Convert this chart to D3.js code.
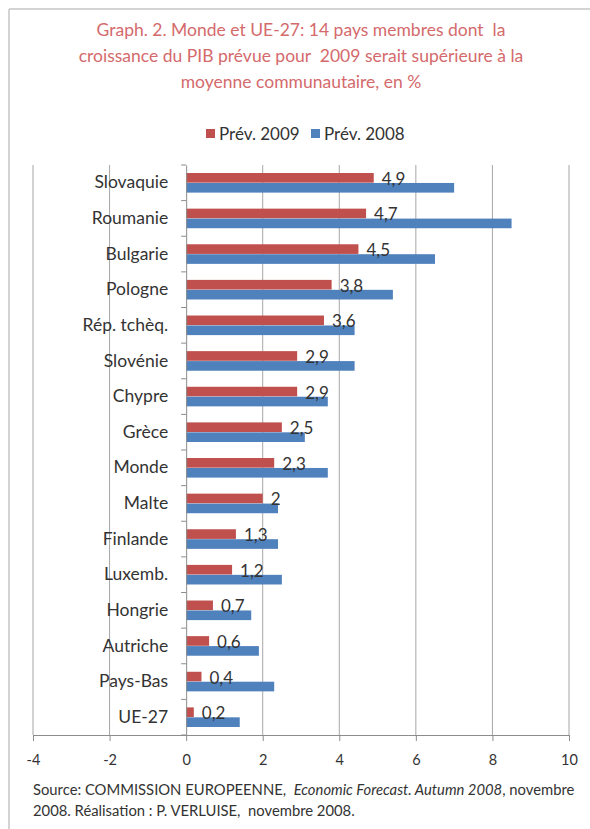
<!DOCTYPE html>
<html><head><meta charset="utf-8">
<script src="https://cdn.jsdelivr.net/npm/d3@7"></script>
<style>
html,body{margin:0;padding:0;background:#fff;}
svg{display:block;}
text{font-family:Lato,"Open Sans",sans-serif;}
</style></head>
<body>
<script>
const categories = ["Slovaquie","Roumanie","Bulgarie","Pologne","Rép. tchèq.","Slovénie","Chypre","Grèce","Monde","Malte","Finlande","Luxemb.","Hongrie","Autriche","Pays-Bas","UE-27"];
const prev2009 = [4.9,4.7,4.5,3.8,3.6,2.9,2.9,2.5,2.3,2,1.3,1.2,0.7,0.6,0.4,0.2];
const prev2008 = [7.0,8.5,6.5,5.4,4.4,4.4,3.7,3.1,3.7,2.4,2.4,2.5,1.7,1.9,2.3,1.4];
const seriesNames = ["Prév. 2009","Prév. 2008"];
const xTicks = [-4,-2,0,2,4,6,8,10];
const titleLines = ["Graph. 2. Monde et UE-27: 14 pays membres dont  la","croissance du PIB prévue pour  2009 serait supérieure à la","moyenne communautaire, en %"];

const W=590,H=829;
const colors=["#c0504d","#4f81bd"];
const svg=d3.select("body").append("svg").attr("width",W).attr("height",H);

// frame
svg.append("line").attr("x1",9).attr("x2",W).attr("y1",9).attr("y2",9).attr("stroke","#d4d4d4").attr("stroke-width",2);
svg.append("line").attr("x1",9).attr("x2",9).attr("y1",9).attr("y2",H).attr("stroke","#d4d4d4").attr("stroke-width",2);

// title
svg.append("g").selectAll("text").data(titleLines).join("text")
  .attr("x",301).attr("y",(d,i)=>36+i*26).attr("text-anchor","middle")
  .attr("font-size",17.5).attr("fill","#d46a6c").style("white-space","pre").text(d=>d);

const x=d3.scaleLinear().domain([-4,10]).range([33,569]);
const y=d3.scaleBand().domain(categories).range([165,735]);
const sub=d3.scaleBand().domain(seriesNames).range([y.bandwidth()*0.225,y.bandwidth()*0.775]).paddingInner(0.03);

// gridlines
svg.append("g").selectAll("line").data(xTicks.filter(d=>d!==0)).join("line")
  .attr("x1",d=>x(d)).attr("x2",d=>x(d)).attr("y1",165).attr("y2",735)
  .attr("stroke","#a6a6a6").attr("stroke-width",1);

// x axis
const xa=svg.append("g").attr("transform","translate(0,735)")
  .call(d3.axisBottom(x).tickValues(xTicks).tickSize(6).tickPadding(14).tickFormat(d=>String(d)));
xa.select(".domain").attr("stroke","#8c8c8c");
xa.selectAll(".tick line").attr("stroke","#8c8c8c");
xa.selectAll("text").attr("font-size",14.5).attr("fill","#333").attr("font-family","Lato,sans-serif");

// bars
const rows=svg.append("g").selectAll("g").data(categories).join("g")
  .attr("transform",d=>`translate(0,${y(d)})`);
const vals=[prev2009,prev2008];
rows.each(function(c,i){
  const g=d3.select(this);
  seriesNames.forEach((s,k)=>{
    const v=vals[k][i];
    g.append("rect").attr("x",x(Math.min(0,v))).attr("width",Math.abs(x(v)-x(0)))
      .attr("y",sub(s)).attr("height",sub.bandwidth()).attr("fill",colors[k]);
  });
  g.append("text").attr("x",x(prev2009[i])+8).attr("y",sub(seriesNames[0])+sub.bandwidth()/2+7)
    .attr("font-size",17).attr("fill","#333").text(String(prev2009[i]).replace(".",","));
});

// y axis
const ya=svg.append("g").attr("transform",`translate(${x(0)},0)`)
  .call(d3.axisLeft(y).tickSize(0).tickPadding(18));
ya.select(".domain").attr("stroke","#8c8c8c");
ya.selectAll("text").attr("font-size",17.5).attr("fill","#333").attr("font-family","Lato,sans-serif");
svg.append("g").selectAll("line").data(categories.concat(["end"])).join("line")
  .attr("x1",x(0)-5).attr("x2",x(0))
  .attr("y1",(d,i)=>165+i*y.step()).attr("y2",(d,i)=>165+i*y.step())
  .attr("stroke","#8c8c8c");

// legend
const leg=svg.append("g").attr("transform","translate(206,134)");
const legX=[0,105];
seriesNames.forEach((s,k)=>{
  leg.append("rect").attr("x",legX[k]).attr("y",-5).attr("width",9).attr("height",9).attr("fill",colors[k]);
  leg.append("text").attr("x",legX[k]+13).attr("y",6).attr("font-size",17).attr("fill","#333").text(s);
});

// source
const src=svg.append("text").attr("x",33).attr("y",795).attr("font-size",14.8).attr("fill","#333").style("white-space","pre");
src.append("tspan").text("Source: COMMISSION EUROPEENNE,  ");
src.append("tspan").attr("font-style","italic").text("Economic Forecast. Autumn 2008");
src.append("tspan").text(", novembre");
svg.append("text").attr("x",33).attr("y",816).attr("font-size",14.8).attr("fill","#333").style("white-space","pre")
  .text("2008. Réalisation : P. VERLUISE,  novembre 2008.");
</script>
</body></html>
